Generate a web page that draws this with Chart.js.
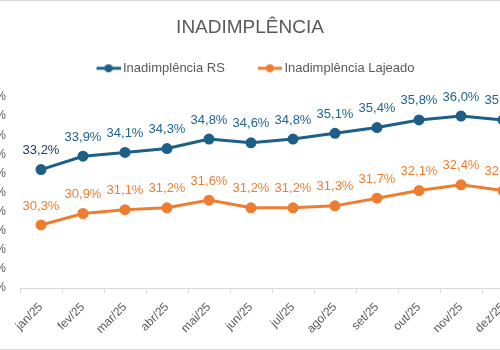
<!DOCTYPE html>
<html>
<head>
<meta charset="utf-8">
<script src="https://cdn.jsdelivr.net/npm/chart.js@4.4.1/dist/chart.umd.min.js"></script>
<style>
  html, body { margin: 0; padding: 0; background: #fff; overflow: hidden; }
  #wrap { position: relative; width: 500px; height: 350px; overflow: hidden; }
  #grafico { position: absolute; left: -24px; top: 0; }
</style>
</head>
<body>
<div id="wrap">
  <canvas id="grafico" width="548" height="350"></canvas>
</div>
<script>
// dados
const meses = ['jan/25', 'fev/25', 'mar/25', 'abr/25', 'mai/25', 'jun/25',
               'jul/25', 'ago/25', 'set/25', 'out/25', 'nov/25', 'dez/25'];
const inadRS = [33.2, 33.9, 34.1, 34.3, 34.8, 34.6, 34.8, 35.1, 35.4, 35.8, 36.0, 35.8];
const inadLajeado = [30.3, 30.9, 31.1, 31.2, 31.6, 31.2, 31.2, 31.3, 31.7, 32.1, 32.4, 32.1];
const eixoMin = 27;
const eixoMax = 37;

const corRS = '#1D5F86';
const corLajeado = '#ED7D31';
const cinza = '#595959';

// marcador da legenda: linha com bolinha, encostado à direita da imagem
function marcador(cor) {
  const c = document.createElement('canvas');
  c.width = 51;
  c.height = 10;
  const g = c.getContext('2d');
  g.strokeStyle = cor;
  g.lineWidth = 3;
  g.beginPath();
  g.moveTo(27, 5);
  g.lineTo(51, 5);
  g.stroke();
  g.fillStyle = cor;
  g.beginPath();
  g.arc(39, 5, 4, 0, Math.PI * 2);
  g.fill();
  return c;
}

const formata = v => v.toFixed(1).replace('.', ',') + '%';

// rótulos de dados acima dos pontos
const rotulos = {
  id: 'rotulos',
  afterLayout(chart) {
    // compensa a parte transparente do primeiro marcador
    if (chart.legend) {
      chart.legend.left -= 6;
      chart.legend.right -= 6;
    }
  },
  afterDatasetsDraw(chart) {
    const ctx = chart.ctx;
    ctx.save();
    ctx.font = '13px "Liberation Sans", Arial, sans-serif';
    ctx.textAlign = 'center';
    ctx.textBaseline = 'middle';
    chart.data.datasets.forEach((ds, i) => {
      const meta = chart.getDatasetMeta(i);
      meta.data.forEach((pt, j) => {
        ctx.fillStyle = ds.corRotulo[j] || ds.corRotulo[0];
        ctx.fillText(formata(ds.data[j]), pt.x, pt.y - 19);
      });
    });
    ctx.restore();
  }
};

// fundo branco e borda do gráfico
const moldura = {
  id: 'moldura',
  beforeDraw(chart) {
    const ctx = chart.ctx;
    ctx.save();
    ctx.fillStyle = '#fff';
    ctx.fillRect(0, 0, chart.width, chart.height);
    ctx.strokeStyle = '#D9D9D9';
    ctx.lineWidth = 1;
    ctx.strokeRect(0.5, 0.5, chart.width - 1, chart.height - 1);
    ctx.restore();
  }
};

const corRotuloRS = meses.map((m, i) => i === 0 ? '#203864' : '#22648F');

const ctx = document.getElementById('grafico').getContext('2d');
const chart = new Chart(ctx, {
  type: 'line',
  data: {
    labels: meses,
    datasets: [
      {
        label: 'Inadimplência RS',
        data: inadRS,
        borderColor: corRS,
        backgroundColor: corRS,
        borderWidth: 3,
        pointRadius: 4,
        pointStyle: 'circle',
        legendaImg: marcador(corRS),
        corRotulo: corRotuloRS
      },
      {
        label: 'Inadimplência Lajeado',
        data: inadLajeado,
        borderColor: corLajeado,
        backgroundColor: corLajeado,
        borderWidth: 3,
        pointRadius: 4,
        pointStyle: 'circle',
        legendaImg: marcador(corLajeado),
        corRotulo: [corLajeado]
      }
    ]
  },
  options: {
    responsive: false,
    animation: false,
    layout: { padding: 0, autoPadding: false },
    plugins: {
      title: {
        display: true,
        text: 'INADIMPLÊNCIA',
        color: cinza,
        font: { family: '"Liberation Sans", Arial, sans-serif', size: 19, weight: 'normal' },
        padding: { top: 16, bottom: 13 }
      },
      subtitle: {
        display: true,
        text: '',
        weight: 500,
        font: { size: 1 },
        padding: { top: 11, bottom: 0 }
      },
      legend: {
        display: true,
        labels: {
          color: cinza,
          font: { family: '"Liberation Sans", Arial, sans-serif', size: 13 },
          usePointStyle: true,
          pointStyleWidth: 43,
          padding: 10,
          generateLabels(chart) {
            return chart.data.datasets.map((ds, i) => ({
              text: ds.label,
              fontColor: cinza,
              pointStyle: ds.legendaImg,
              datasetIndex: i,
              hidden: false,
              lineWidth: 0
            }));
          }
        }
      },
      tooltip: { enabled: false }
    },
    scales: {
      x: {
        offset: true,
        grid: {
          offset: true,
          drawOnChartArea: false,
          drawTicks: true,
          tickLength: 5,
          color: '#D9D9D9'
        },
        border: { display: true, color: '#D9D9D9' },
        ticks: {
          color: cinza,
          font: { family: '"Liberation Sans", Arial, sans-serif', size: 12 },
          maxRotation: 45,
          minRotation: 45,
          padding: 7
        },
        afterFit(s) { s.height = 62; }
      },
      y: {
        min: eixoMin,
        max: eixoMax,
        grid: { display: false, drawTicks: false },
        border: { display: false },
        ticks: {
          stepSize: 1,
          color: cinza,
          padding: 14,
          font: { family: '"Liberation Sans", Arial, sans-serif', size: 12 },
          callback: v => v + '%'
        },
        afterFit(s) { s.width = 44; }
      }
    }
  },
  plugins: [moldura, rotulos]
});
</script>
</body>
</html>
